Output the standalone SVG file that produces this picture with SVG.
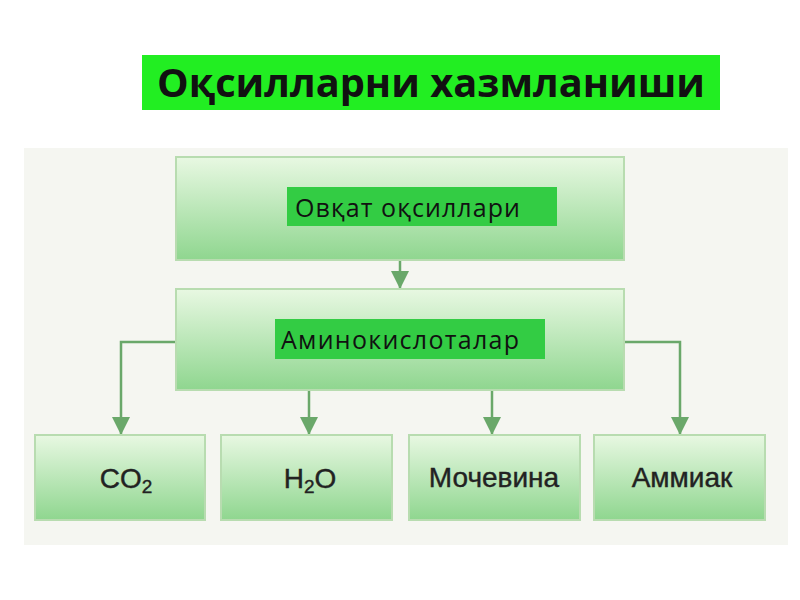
<svg xmlns="http://www.w3.org/2000/svg" width="800" height="600" viewBox="0 0 800 600">
<defs>
<linearGradient id="g" x1="0" y1="0" x2="0" y2="1"><stop offset="0" stop-color="#e8f8e2"/><stop offset="1" stop-color="#8fd68f"/></linearGradient>
<style>
.b{fill:url(#g);stroke:#b8dcb0;stroke-width:2}
.l{fill:#33cc44}
.t{font-family:"Open Sans","DejaVu Sans",sans-serif;font-size:25px;fill:#111}
.s{font-family:"Liberation Sans",Arial,sans-serif;font-size:28px;fill:#222;text-anchor:middle;stroke:#222;stroke-width:0.4}
.c{fill:none;stroke:#6aa86a;stroke-width:2.5}
</style>
<marker id="m" viewBox="0 0 16 16" refX="16" refY="8" markerWidth="18" markerHeight="18" markerUnits="userSpaceOnUse" orient="auto"><path d="M0,0L16,8L0,16z" fill="#6aa86a"/></marker>
</defs>
<rect width="800" height="600" fill="#fff"/>
<rect x="24" y="148" width="764" height="397" fill="#f5f6f1"/>
<g id="title"><rect x="142" y="55" width="578" height="55" fill="#22ee22"/><text x="431" y="97" text-anchor="middle" font-family="'Open Sans','DejaVu Sans',sans-serif" font-size="39" font-weight="bold" fill="#111" textLength="548" lengthAdjust="spacingAndGlyphs">Оқсилларни хазмланиши</text></g>
<g id="connectors">
<path class="c" marker-end="url(#m)" d="M400,260V289"/>
<path class="c" marker-end="url(#m)" d="M176,342H121V435"/>
<path class="c" marker-end="url(#m)" d="M624,342H680V435"/>
<path class="c" marker-end="url(#m)" d="M309,390V435"/>
<path class="c" marker-end="url(#m)" d="M492,390V435"/>
</g>
<g id="n1"><rect class="b" x="176" y="157" width="448" height="103"/><rect class="l" x="287" y="187" width="270" height="39"/><text class="t" x="295" y="217" textLength="225">Овқат оқсиллари</text></g>
<g id="n2"><rect class="b" x="176" y="289" width="448" height="101"/><rect class="l" x="275" y="319" width="270" height="40"/><text class="t" x="281" y="349" textLength="238">Аминокислоталар</text></g>
<g id="n3"><rect class="b" x="35" y="435" width="170" height="85"/><text class="s" x="126" y="488">CO<tspan font-size="19" dy="5">2</tspan></text></g>
<g id="n4"><rect class="b" x="221" y="435" width="171" height="85"/><text class="s" x="310" y="488">H<tspan font-size="19" dy="5">2</tspan><tspan dy="-5">O</tspan></text></g>
<g id="n5"><rect class="b" x="409" y="435" width="171" height="85"/><text class="s" x="494" y="487" font-size="22">Мочевина</text></g>
<g id="n6"><rect class="b" x="594" y="435" width="171" height="85"/><text class="s" x="682" y="487" font-size="22">Аммиак</text></g>
</svg>
